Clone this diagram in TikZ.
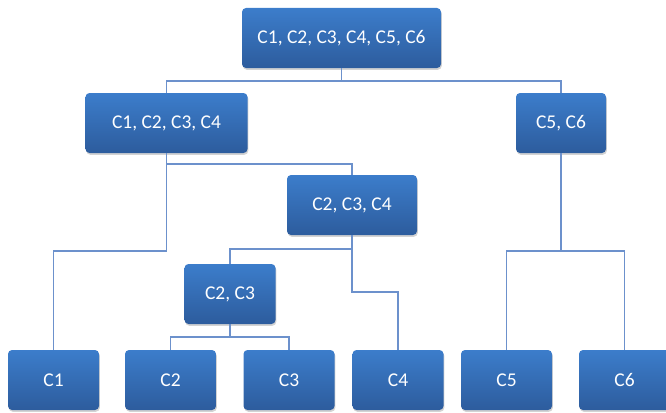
\documentclass[tikz,border=0pt]{standalone}
\usepackage{fontspec}
\setmainfont{Carlito}
\usetikzlibrary{positioning, shadows}

\definecolor{boxtop}{HTML}{3C7DCB}
\definecolor{boxbot}{HTML}{2D5C9D}
\definecolor{linkcol}{HTML}{6C91CC}

\begin{document}
\begin{tikzpicture}[
    x=1pt, y=-1pt,
    box/.style={font=\fontsize{19.5}{22}\selectfont, text=white, minimum height=60pt, rounded corners=4pt,
                top color=boxtop, bottom color=boxbot, inner sep=2pt, outer sep=0pt, align=center,
                drop shadow={shadow xshift=0.8pt, shadow yshift=-1.8pt, opacity=0.35}},
    link/.style={draw=linkcol, line width=1.2pt}
]
  \useasboundingbox (0,0) rectangle (666,412);

  % Upper levels (merged groups)
  \node[box, minimum width=199pt] (all) at (341.5,38) {C1, C2, C3, C4, C5, C6};
  \node[box, minimum width=162pt] (c1234) at (166.5,123) {C1, C2, C3, C4};
  \node[box, minimum width=90pt] (c56) at (561,123) {C5, C6};
  \node[box, minimum width=130pt] (c234) at (352,205) {C2, C3, C4};
  \node[box, minimum width=91pt] (c23) at (230,294) {C2, C3};

  % Bottom row (single clusters)
  \node[box, minimum width=91pt] (c1) at (53.5,380) {C1};
  \node[box, minimum width=91pt] (c2) at (170.5,380) {C2};
  \node[box, minimum width=91pt] (c3) at (289,380) {C3};
  \node[box, minimum width=91pt] (c4) at (398,380) {C4};
  \node[box, minimum width=91pt] (c5) at (506.5,380) {C5};
  \node[box, minimum width=91pt] (c6) at (624.5,380) {C6};

  % Joints of the connectors
  \coordinate (jall) at (341.5,81);
  \coordinate (j1234) at (352,164);
  \coordinate (jc1) at (53.5,251);
  \coordinate (j23) at (230,249);
  \coordinate (jc4) at (398,292);
  \coordinate (jleaf) at (230,337);
  \coordinate (j56) at (561,251);

  % Connectors
  \draw[link] (all.south) -- (jall);
  \draw[link] (c1234.north) |- (jall) -| (c56.north);
  \draw[link] (c1234.south) |- (j1234) -- (c234.north);
  \draw[link] (c1234.south) |- (jc1) -- (c1.north);
  \draw[link] (c234.south) |- (j23) -- (c23.north);
  \draw[link] (c234.south) |- (jc4) -- (c4.north);
  \draw[link] (c23.south) -- (jleaf);
  \draw[link] (c2.north) |- (jleaf) -| (c3.north);
  \draw[link] (c56.south) -- (j56);
  \draw[link] (c5.north) |- (j56) -| (c6.north);

\end{tikzpicture}
\end{document}
